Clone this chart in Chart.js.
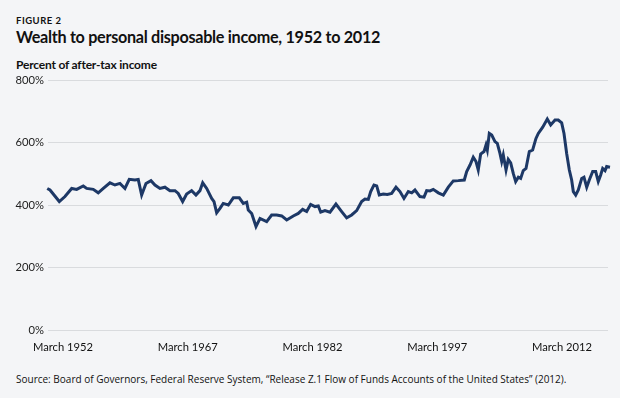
<!DOCTYPE html>
<html>
<head>
<meta charset="utf-8">
<script src="https://cdn.jsdelivr.net/npm/chart.js@4/dist/chart.umd.min.js"></script>
<style>
  html, body { margin: 0; padding: 0; }
  body { width: 620px; height: 398px; background: #f4f5f7; position: relative; overflow: hidden;
         font-family: Lato, "Open Sans", sans-serif; color: #111; }
  #fig { position: absolute; left: 16px; top: 14.5px; font-size: 9.5px; font-weight: 700; letter-spacing: 0.5px; }
  #title { position: absolute; left: 16px; top: 27px; font-size: 16.2px; font-weight: 700; letter-spacing: -0.3px; }
  #sub { position: absolute; left: 16px; top: 57px; font-size: 12px; font-weight: 700; letter-spacing: -0.2px; }
  #source { position: absolute; left: 16px; top: 372px; font-family: "Liberation Sans Narrow", "Open Sans", sans-serif; font-size: 10px; }
  #wrap { position: absolute; left: 0; top: 0; width: 620px; height: 398px; }
</style>
</head>
<body>
<div id="fig">FIGURE 2</div>
<div id="title">Wealth to personal disposable income, 1952 to 2012</div>
<div id="sub">Percent of after-tax income</div>
<div id="source">Source: Board of Governors, Federal Reserve System, “Release Z.1 Flow of Funds Accounts of the United States” (2012).</div>
<div id="wrap"><canvas id="chart" width="620" height="398"></canvas></div>
<script>
// position along the time axis (in years)
const years = [
  1950.11, 1950.44, 1951.56, 1952.24, 1953.05, 1953.65, 1954.44, 1954.85, 1955.64, 1956.24,
  1956.85, 1957.65, 1958.25, 1958.85, 1959.45, 1959.97, 1960.66, 1961.05, 1961.46, 1961.98,
  1962.58, 1963.06, 1963.66, 1964.26, 1964.86, 1965.47, 1965.86, 1966.39, 1966.87, 1967.47,
  1967.99, 1968.47, 1968.80, 1969.28, 1969.88, 1970.16, 1970.48, 1970.88, 1971.27, 1971.88,
  1972.48, 1973.20, 1973.68, 1974.09, 1974.28, 1974.69, 1975.21, 1975.69, 1976.49, 1977.09,
  1977.69, 1978.30, 1978.90, 1979.69, 1980.29, 1980.82, 1981.30, 1981.78, 1982.30, 1982.70,
  1982.99, 1983.50, 1984.10, 1984.82, 1985.51, 1986.11, 1986.71, 1987.31, 1987.91, 1988.31,
  1988.71, 1989.00, 1989.39, 1989.72, 1990.03, 1990.51, 1990.99, 1991.52, 1992.04, 1992.52,
  1993.00, 1993.52, 1993.93, 1994.32, 1994.92, 1995.41, 1995.73, 1996.13, 1996.52, 1997.13,
  1997.73, 1998.33, 1998.93, 1999.53, 2000.25, 2000.54, 2000.94, 2001.33, 2001.66, 2001.93,
  2002.22, 2002.62, 2002.86, 2003.02, 2003.26, 2003.55, 2003.94, 2004.22, 2004.54, 2004.75,
  2004.94, 2005.27, 2005.54, 2005.83, 2006.14, 2006.43, 2006.75, 2007.03, 2007.34, 2007.67,
  2008.07, 2008.47, 2008.87, 2009.15, 2009.68, 2010.23, 2010.64, 2011.16, 2011.55, 2011.96,
  2012.24, 2012.56, 2012.88, 2013.16, 2013.36, 2013.65, 2013.96, 2014.37, 2014.64, 2014.97,
  2015.28, 2015.69, 2016.05, 2016.36, 2016.65, 2016.89, 2017.17, 2017.37, 2017.77
];

// wealth as percent of after-tax income
const wealthPct = [
  453, 448, 411, 427, 453, 450, 461, 453, 450, 439,
  453, 471, 464, 469, 453, 482, 480, 482, 432, 469,
  478, 464, 453, 457, 446, 446, 437, 411, 435, 446,
  432, 446, 471, 453, 421, 411, 375, 389, 405, 400,
  423, 423, 405, 409, 384, 373, 331, 357, 347, 368,
  368, 365, 352, 365, 373, 386, 379, 402, 395, 397,
  377, 382, 377, 403, 379, 359, 368, 382, 411, 419,
  418, 443, 464, 461, 432, 435, 434, 437, 457, 443,
  421, 443, 439, 448, 427, 425, 446, 445, 450, 439,
  432, 457, 477, 478, 480, 507, 528, 553, 539, 512,
  563, 571, 592, 576, 629, 624, 603, 597, 565, 539,
  560, 512, 546, 535, 501, 475, 489, 485, 510, 517,
  571, 576, 613, 629, 649, 675, 656, 672, 672, 663,
  629, 565, 512, 480, 443, 432, 448, 485, 489, 457,
  480, 507, 507, 475, 496, 517, 510, 523, 521
];

const yTicks = [0, 200, 400, 600, 800];
const xTickYears = [1952, 1967, 1982, 1997, 2012];

const points = years.map((yr, i) => ({ x: yr, y: wealthPct[i] }));

new Chart(document.getElementById("chart"), {
  type: "line",
  data: {
    datasets: [{
      data: points,
      borderColor: "#1d3866",
      borderWidth: 3,
      pointRadius: 0,
      tension: 0,
      clip: false
    }]
  },
  options: {
    responsive: false,
    animation: false,
    devicePixelRatio: 1,
    layout: { padding: { top: 80, right: 12, bottom: 40, left: 0 } },
    plugins: { legend: { display: false }, tooltip: { enabled: false } },
    scales: {
      x: {
        type: "linear",
        min: 1950.2,
        max: 2017.53,
        afterBuildTicks: axis => { axis.ticks = xTickYears.map(v => ({ value: v })); },
        afterFit: axis => { axis.height = 28; },
        grid: { display: false, drawTicks: false },
        border: { display: false },
        ticks: {
          padding: 11,
          maxRotation: 0,
          autoSkip: false,
          color: "#111",
          font: { family: "Lato", size: 11.2 },
          callback: v => "March " + v
        }
      },
      y: {
        min: 0,
        max: 800,
        afterBuildTicks: axis => { axis.ticks = yTicks.map(v => ({ value: v })); },
        afterFit: axis => { axis.width = 48; },
        grid: { color: "#d9dbde", lineWidth: 1, drawTicks: false },
        border: { display: false },
        ticks: {
          padding: 4,
          color: "#222",
          font: { family: "Lato", size: 11.2 },
          callback: v => v + "%"
        }
      }
    }
  }
});
</script>
</body>
</html>
